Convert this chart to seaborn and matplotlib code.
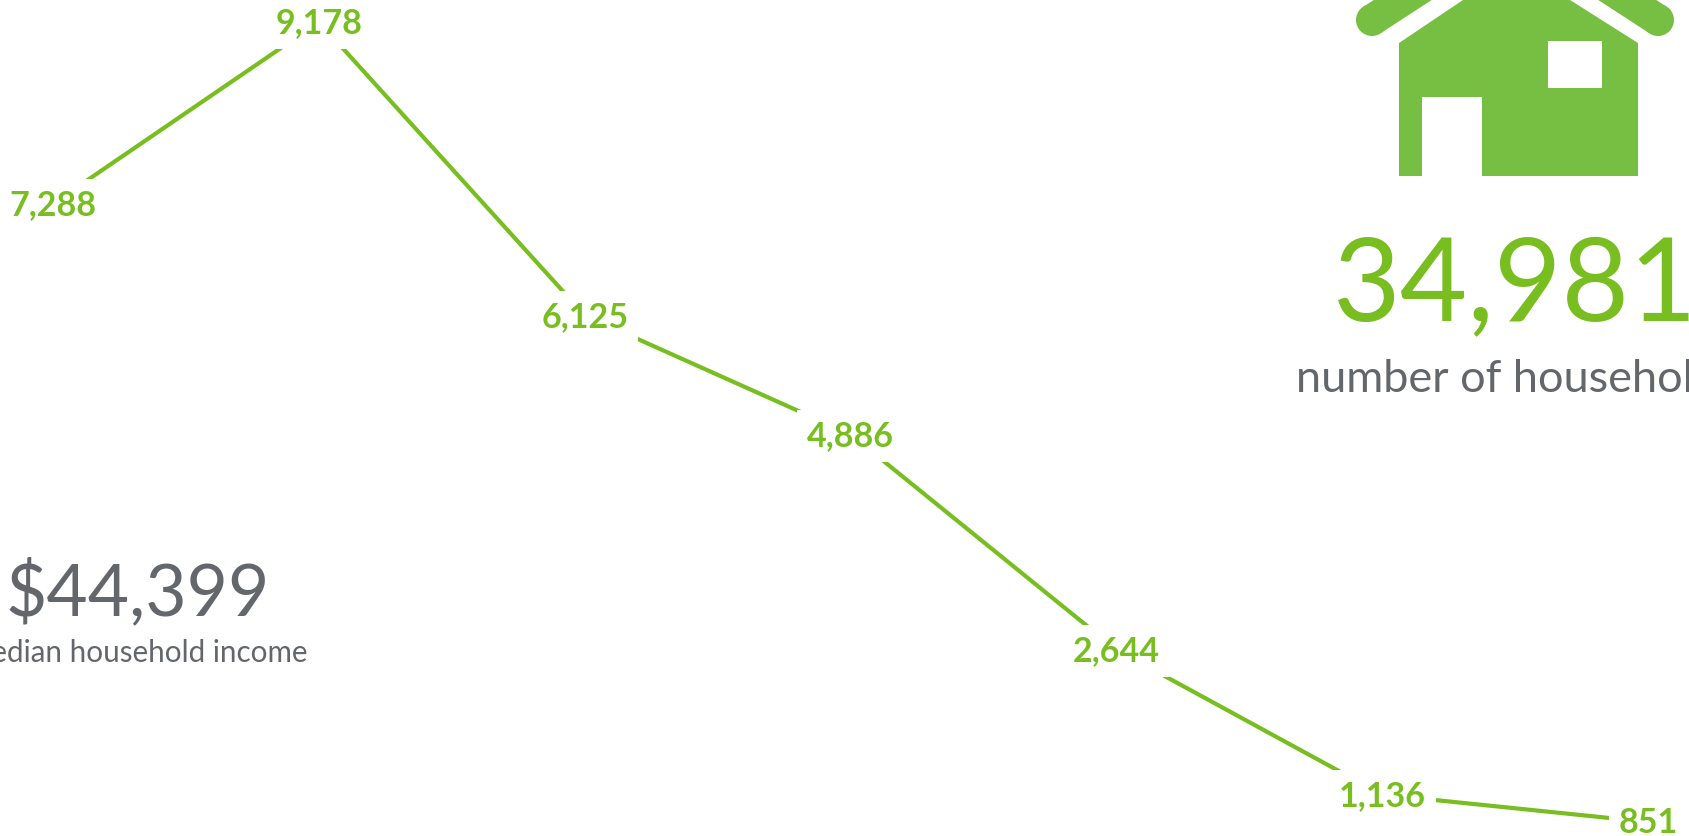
import pandas as pd
import matplotlib.pyplot as plt
from matplotlib.patches import Circle, Polygon, Rectangle
import seaborn as sns

# Values
positions = [0, 1, 2, 3, 4, 5, 6]
households = [7288, 9178, 6125, 4886, 2644, 1136, 851]
total_households = "34,981"
total_label = "number of households"
median_income = "$44,399"
income_label = "median household income"

GREEN = "#78BE20"
HOUSE_GREEN = "#77BF43"
GREY = "#63666A"

sns.set_theme(style="white")
plt.rcParams["font.family"] = ["Lato", "DejaVu Sans"]

df = pd.DataFrame({"position": positions, "households": households})

fig = plt.figure(figsize=(16.9, 8.36), dpi=100)
ax = fig.add_axes([0, 0, 1, 1])
sns.lineplot(data=df, x="position", y="households", color=GREEN, linewidth=3, ax=ax)
ax.set_xlim(-0.2, 6.158)
ax.set_ylim(705, 9407)
ax.axis("off")

# Labels sit on the points, the white box cuts the line
for x, v in zip(df["position"], df["households"]):
    ax.annotate(f"{v:,}", (x, v), xytext=(0, -1), textcoords="offset points", color=GREEN, fontsize=24.5,
                fontweight="bold", ha="center", va="center",
                bbox=dict(boxstyle="square,pad=0.29", facecolor="white", edgecolor="none"), zorder=5)

# Overlay in pixel coordinates for the icon and the big numbers
over = fig.add_axes([0, 0, 1, 1])
over.axis("off")
over.patch.set_alpha(0)

over.add_patch(Polygon([(1399, 176), (1399, 43), (1463, 0), (1570, 0), (1638, 43), (1638, 176)],
                       closed=True, facecolor=HOUSE_GREEN, edgecolor="none"))
over.add_patch(Rectangle((1422, 97), 60, 80, facecolor="white", edgecolor="none"))
over.add_patch(Rectangle((1548, 41), 54, 47, facecolor="white", edgecolor="none"))

# Roof bars are polygons, a thick line would get its round cap at the figure edge
over.add_patch(Polygon([(1363, 7), (1381, 33), (1481, -32), (1463, -58)], closed=True,
                       facecolor=HOUSE_GREEN, edgecolor="none"))
over.add_patch(Circle((1372, 20), 16, facecolor=HOUSE_GREEN, edgecolor="none"))
over.add_patch(Polygon([(1667, 7), (1649, 33), (1549, -32), (1567, -58)], closed=True,
                       facecolor=HOUSE_GREEN, edgecolor="none"))
over.add_patch(Circle((1658, 20), 16, facecolor=HOUSE_GREEN, edgecolor="none"))
over.set_xlim(0, 1690)
over.set_ylim(836, 0)

over.text(1333, 320, total_households, color=GREEN, fontsize=84, va="baseline", ha="left")
over.text(1296, 392, total_label, color=GREY, fontsize=32.5, va="baseline", ha="left")
over.text(5, 615, median_income, color=GREY, fontsize=51.3, va="baseline", ha="left")
over.text(308, 662, income_label, color=GREY, fontsize=21.3, va="baseline", ha="right")

plt.savefig("out.png", dpi=100)
plt.close()
